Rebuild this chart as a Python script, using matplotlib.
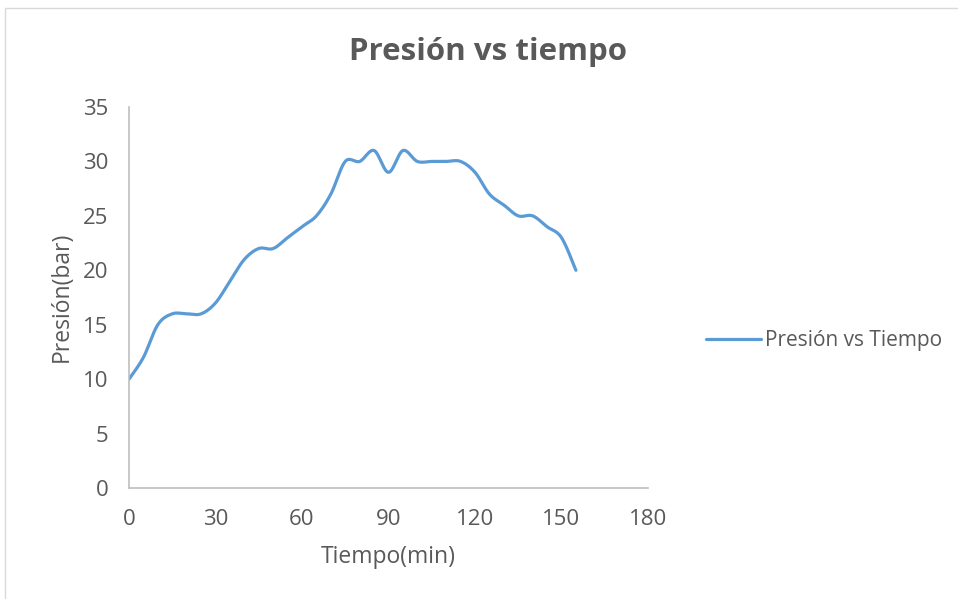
import numpy as np
import matplotlib.pyplot as plt
from matplotlib.patches import Rectangle

# data (every 5 min)
tiempo = [0, 5, 10, 15, 20, 25, 30, 35, 40, 45, 50, 55, 60, 65, 70, 75,
          80, 85, 90, 95, 100, 105, 110, 115, 120, 125, 130, 135, 140, 145, 150, 155]
presion = [10, 12, 15, 16, 16, 16, 17, 19, 21, 22, 22, 23, 24, 25, 27, 30,
           30, 31, 29, 31, 30, 30, 30, 30, 29, 27, 26, 25, 25, 24, 23, 20]
xticks = [0, 30, 60, 90, 120, 150, 180]
yticks = [0, 5, 10, 15, 20, 25, 30, 35]


def smooth(x, y, steps=20):
    # Excel-like smoothed line: cubic bezier through points (Catmull-Rom tangents)
    x = np.asarray(x, float)
    y = np.asarray(y, float)
    px = np.concatenate([[x[0]], x, [x[-1]]])
    py = np.concatenate([[y[0]], y, [y[-1]]])
    t = np.linspace(0, 1, steps)[:, None]
    xs, ys = [], []
    for i in range(1, len(px) - 2):
        p0 = np.array([px[i], py[i]])
        p3 = np.array([px[i + 1], py[i + 1]])
        p1 = p0 + (np.array([px[i + 1], py[i + 1]]) - np.array([px[i - 1], py[i - 1]])) / 6
        p2 = p3 - (np.array([px[i + 2], py[i + 2]]) - np.array([px[i], py[i]])) / 6
        b = ((1 - t) ** 3) * p0 + 3 * ((1 - t) ** 2) * t * p1 + 3 * (1 - t) * t ** 2 * p2 + t ** 3 * p3
        xs.append(b[:, 0])
        ys.append(b[:, 1])
    return np.concatenate(xs), np.concatenate(ys)


plt.rcParams['font.family'] = ['Open Sans', 'DejaVu Sans']
grey = '#595959'

fig = plt.figure(figsize=(9.58, 5.99), dpi=100)
fig.patches.append(Rectangle((5 / 958, -0.1), 1.2, 1.1 - 8 / 599, transform=fig.transFigure,
                             fill=False, edgecolor='#D9D9D9', linewidth=1))

ax = fig.add_axes([129 / 958, 1 - 488 / 599, (648 - 129) / 958, (488 - 107) / 599])
sx, sy = smooth(tiempo, presion)
ax.plot(sx, sy, color='#5B9BD5', linewidth=2.3, solid_capstyle='round',
        label='Presión vs Tiempo')

ax.set_xlim(0, 180)
ax.set_ylim(0, 35)
ax.set_xticks(xticks)
ax.set_yticks(yticks)
ax.tick_params(length=0, labelsize=16, colors=grey)
ax.tick_params(axis='x', pad=15)
ax.tick_params(axis='y', pad=15)
for s in ['top', 'right']:
    ax.spines[s].set_visible(False)
for s in ['left', 'bottom']:
    ax.spines[s].set_color('#BFBFBF')
    ax.spines[s].set_linewidth(1.2)

ax.set_xlabel('Tiempo(min)', fontsize=16.5, color=grey, va='center')
ax.set_ylabel('Presión(bar)', fontsize=16.5, color=grey, va='center')
ax.xaxis.set_label_coords((388 - 129) / 519, (488 - 557) / 381)
ax.yaxis.set_label_coords((62 - 129) / 519, (488 - 297) / 381)
fig.text(488 / 958, 1 - 52 / 599, 'Presión vs tiempo', fontsize=22.5, fontweight='bold',
         color=grey, ha='center', va='center')

ax.legend(loc='center left', bbox_to_anchor=(687 / 958, 1 - 341 / 599),
          bbox_transform=fig.transFigure, frameon=False, fontsize=15,
          handlelength=2.64, handletextpad=0.2, labelcolor=grey)

fig.savefig('out.png', dpi=100)
